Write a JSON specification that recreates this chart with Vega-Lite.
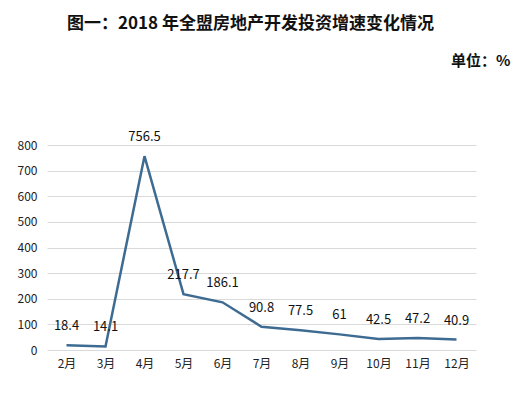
{
  "$schema": "https://vega.github.io/schema/vega-lite/v6.json",
  "width": 429,
  "height": 205,
  "autosize": {"type": "none"},
  "padding": {"left": 47, "top": 145, "right": 48, "bottom": 44},
  "background": "white",
  "title": {
    "text": "图一：2018 年全盟房地产开发投资增速变化情况",
    "anchor": "middle",
    "frame": "group",
    "offset": 20,
    "dx": -11,
    "font": "Noto Sans CJK SC",
    "fontSize": 17,
    "fontWeight": "bold",
    "color": "#111111"
  },
  "data": {
    "values": [
      {"month": "2月", "value": 18.4},
      {"month": "3月", "value": 14.1},
      {"month": "4月", "value": 756.5},
      {"month": "5月", "value": 217.7},
      {"month": "6月", "value": 186.1},
      {"month": "7月", "value": 90.8},
      {"month": "8月", "value": 77.5},
      {"month": "9月", "value": 61},
      {"month": "10月", "value": 42.5},
      {"month": "11月", "value": 47.2},
      {"month": "12月", "value": 40.9}
    ]
  },
  "encoding": {
    "x": {
      "field": "month",
      "type": "ordinal",
      "sort": null,
      "scale": {"type": "point", "padding": 0.5},
      "axis": {
        "title": null,
        "labelAngle": 0,
        "labelFont": "Noto Sans CJK SC",
        "labelFontSize": 12,
        "labelColor": "#222222",
        "labelPadding": 8,
        "ticks": false,
        "domain": false,
        "grid": false
      }
    },
    "y": {
      "field": "value",
      "type": "quantitative",
      "scale": {"domain": [0, 800], "nice": false},
      "axis": {
        "title": "单位：%",
        "titleAngle": 0,
        "titleX": 463,
        "titleY": -85,
        "titleAlign": "right",
        "titleBaseline": "middle",
        "titleFont": "Noto Sans CJK SC",
        "titleFontSize": 15,
        "titleFontWeight": "bold",
        "titleColor": "#111111",
        "values": [0, 100, 200, 300, 400, 500, 600, 700, 800],
        "labelFont": "Noto Sans CJK SC",
        "labelFontSize": 12,
        "labelColor": "#222222",
        "labelPadding": 10,
        "ticks": false,
        "domain": false,
        "grid": true,
        "gridColor": "#d9d9d9",
        "gridWidth": 1
      }
    }
  },
  "layer": [
    {
      "mark": {"type": "line", "color": "#3e6b92", "strokeWidth": 2.5}
    },
    {
      "mark": {
        "type": "text",
        "dy": -19,
        "font": "Noto Sans CJK SC",
        "fontSize": 13,
        "color": "#111111",
        "baseline": "middle"
      },
      "encoding": {"text": {"field": "value", "type": "quantitative"}}
    }
  ],
  "config": {"view": {"stroke": null}}
}
